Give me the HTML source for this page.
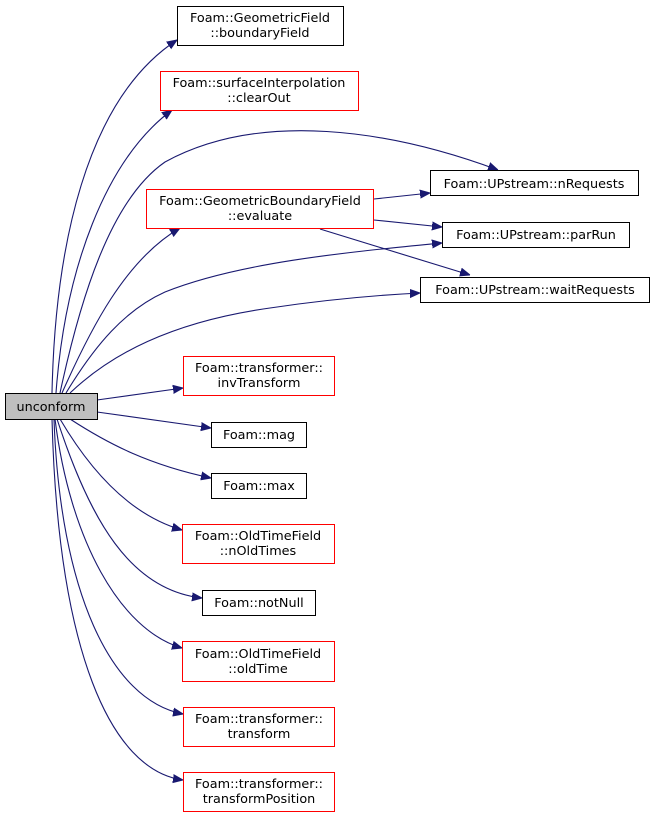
<!DOCTYPE html>
<html><head><meta charset="utf-8"><style>
html,body{margin:0;padding:0;background:#fff;}
svg{display:block;}
text{font-family:"DejaVu Sans","Liberation Sans",sans-serif;font-size:12.8px;fill:#000;}
</style></head><body>
<svg width="652" height="819" viewBox="0 0 652 819" xmlns="http://www.w3.org/2000/svg">
<defs>
<marker id="a" viewBox="0 0 10 10" refX="10" refY="5" markerWidth="10" markerHeight="10" markerUnits="userSpaceOnUse" orient="auto">
<path d="M0,1 L10,5 L0,9 z" fill="#191970" stroke="#191970"/>
</marker>
</defs>
<g fill="none" stroke="#191970" stroke-width="1.1" marker-end="url(#a)">
<path d="M52,393 C55,250 85,100 177,40"/>
<path d="M56,393 C65,270 105,160 172,110"/>
<path d="M60,393 C80,300 110,200 165,162 C260,110 390,130 498,170"/>
<path d="M62,393 C90,330 125,260 180,228"/>
<path d="M66,393 C95,345 125,310 165,292 C240,262 350,252 442,243"/>
<path d="M70,393 C110,355 170,322 270,308 C330,299 380,295 420,293"/>
<path d="M374,199 L430,193"/>
<path d="M374,220 L442,227"/>
<path d="M320,229 L470,275"/>
<path d="M97,400 L183,388"/>
<path d="M97,412 L211,428"/>
<path d="M70,419 C110,445 150,465 211,478"/>
<path d="M60,419 C90,470 130,515 182,530"/>
<path d="M57,419 C90,520 130,590 202,598"/>
<path d="M55,419 C70,540 120,630 182,648"/>
<path d="M54,419 C60,590 110,700 183,714"/>
<path d="M52,419 C58,650 110,770 183,780"/>
</g>
<g stroke-width="1">
<rect x="5.5" y="393.5" width="92" height="26" fill="#bfbfbf" stroke="#000"/>
<rect x="177.5" y="6.5" width="166" height="39" fill="#fff" stroke="#000"/>
<rect x="160.5" y="71.5" width="198" height="39" fill="#fff" stroke="#f00"/>
<rect x="430.5" y="170.5" width="208" height="25" fill="#fff" stroke="#000"/>
<rect x="146.5" y="189.5" width="227" height="39" fill="#fff" stroke="#f00"/>
<rect x="442.5" y="222.5" width="187" height="25" fill="#fff" stroke="#000"/>
<rect x="420.5" y="277.5" width="229" height="25" fill="#fff" stroke="#000"/>
<rect x="183.5" y="356.5" width="151" height="39" fill="#fff" stroke="#f00"/>
<rect x="211.5" y="422.5" width="95" height="25" fill="#fff" stroke="#000"/>
<rect x="211.5" y="473.5" width="95" height="25" fill="#fff" stroke="#000"/>
<rect x="182.5" y="524.5" width="152" height="39" fill="#fff" stroke="#f00"/>
<rect x="202.5" y="590.5" width="113" height="25" fill="#fff" stroke="#000"/>
<rect x="182.5" y="641.5" width="152" height="40" fill="#fff" stroke="#f00"/>
<rect x="183.5" y="707.5" width="151" height="39" fill="#fff" stroke="#f00"/>
<rect x="183.5" y="772.5" width="151" height="39" fill="#fff" stroke="#f00"/>
</g>
<g text-anchor="middle">
<text x="51" y="411">unconform</text>
<text x="260" y="22">Foam::GeometricField</text>
<text x="260" y="37">::boundaryField</text>
<text x="259" y="87">Foam::surfaceInterpolation</text>
<text x="259" y="102">::clearOut</text>
<text x="534" y="188">Foam::UPstream::nRequests</text>
<text x="260" y="205">Foam::GeometricBoundaryField</text>
<text x="260" y="220">::evaluate</text>
<text x="536" y="239">Foam::UPstream::parRun</text>
<text x="535" y="294">Foam::UPstream::waitRequests</text>
<text x="259" y="372">Foam::transformer::</text>
<text x="259" y="387">invTransform</text>
<text x="259" y="439">Foam::mag</text>
<text x="259" y="490">Foam::max</text>
<text x="258" y="540">Foam::OldTimeField</text>
<text x="258" y="555">::nOldTimes</text>
<text x="259" y="607">Foam::notNull</text>
<text x="258" y="658">Foam::OldTimeField</text>
<text x="258" y="673">::oldTime</text>
<text x="259" y="723">Foam::transformer::</text>
<text x="259" y="738">transform</text>
<text x="259" y="788">Foam::transformer::</text>
<text x="259" y="803">transformPosition</text>
</g>
</svg>
</body></html>
